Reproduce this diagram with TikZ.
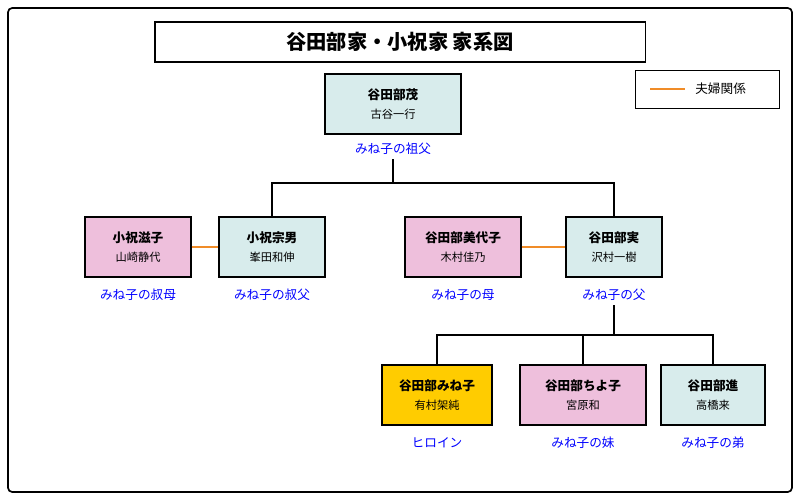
\documentclass[tikz,border=0pt]{standalone}
\usepackage{fontspec}
\setmainfont{Noto Sans CJK JP}
\usetikzlibrary{positioning}
\definecolor{mcyan}{HTML}{D8ECEC}
\definecolor{mpink}{HTML}{EEBFDC}
\definecolor{myellow}{HTML}{FFCC00}
\definecolor{morange}{HTML}{F08C28}
\begin{document}
\begin{tikzpicture}
  [x=0.025cm,y=-0.025cm,every node/.style={inner sep=0pt}]
  \tikzstyle{person} = [draw=black,thick,rectangle,minimum height=1.5cm,align=center,font=\small]
  \tikzstyle{role} = [text=blue,font=\small]
  \tikzstyle{couple} = [draw=morange,line width=1.5pt]
  \useasboundingbox (0,0) rectangle (800,500);
  \draw[line width=1.2pt,rounded corners=3pt] (8,8) rectangle (792,492);
  \node[draw,thick,minimum width=12.25cm,minimum height=1cm,font=\Large\bfseries] (title) at (400,42) {谷田部家・小祝家 家系図};
  \node[draw,thin,minimum width=3.6cm,minimum height=0.95cm] (legend) at (707,89) {};
  \coordinate (la) at (650,89);
  \coordinate (lb) at (685,89);
  \node[anchor=west,font=\small] (legendtext) at (695,89) {夫婦関係};
  \draw[couple] (la) -- (lb);
  % persons
  \node[person,fill=mcyan,minimum width=3.4cm] (shigeru) at (393,104) {\textbf{谷田部茂}\\[3pt]{\footnotesize 古谷一行}};
  \node[person,fill=mpink,minimum width=2.65cm] (shigeko) at (138,247) {\textbf{小祝滋子}\\[3pt]{\footnotesize 山崎静代}};
  \node[person,fill=mcyan,minimum width=2.65cm] (muneo) at (272,247) {\textbf{小祝宗男}\\[3pt]{\footnotesize 峯田和伸}};
  \node[person,fill=mpink,minimum width=2.9cm] (miyoko) at (463,247) {\textbf{谷田部美代子}\\[3pt]{\footnotesize 木村佳乃}};
  \node[person,fill=mcyan,minimum width=2.4cm] (minoru) at (614,247) {\textbf{谷田部実}\\[3pt]{\footnotesize 沢村一樹}};
  \node[person,fill=myellow,minimum width=2.75cm] (mineko) at (437,395) {\textbf{谷田部みね子}\\[3pt]{\footnotesize 有村架純}};
  \node[person,fill=mpink,minimum width=3.15cm] (chiyoko) at (583,395) {\textbf{谷田部ちよ子}\\[3pt]{\footnotesize 宮原和}};
  \node[person,fill=mcyan,minimum width=2.6cm] (susumu) at (713,395) {\textbf{谷田部進}\\[3pt]{\footnotesize 高橋来}};
  % roles
  \node[role,below=6pt of shigeru] (r1) {みね子の祖父};
  \node[role,below=8pt of shigeko] (r2) {みね子の叔母};
  \node[role,below=8pt of muneo] (r3) {みね子の叔父};
  \node[role,below=8pt of miyoko] (r4) {みね子の母};
  \node[role,below=8pt of minoru] (r5) {みね子の父};
  \node[role,below=8pt of mineko] (r6) {ヒロイン};
  \node[role,below=8pt of chiyoko] (r7) {みね子の妹};
  \node[role,below=8pt of susumu] (r8) {みね子の弟};
  % couples
  \foreach \source /\dest in {shigeko/muneo,miyoko/minoru}
   \draw[couple] (\source) -- (\dest);
  % descent
  \coordinate (j1) at (393,183);
  \coordinate (j2) at (614,335);
  \draw[thick] (r1.south) ++(0,-3pt) -- (j1);
  \draw[thick] (r5.south) ++(0,-3pt) -- (j2);
  \foreach \dest in {muneo,minoru}
   \draw[thick] (j1) -| (\dest.north);
  \foreach \dest in {mineko,chiyoko,susumu}
   \draw[thick] (j2) -| (\dest.north);
\end{tikzpicture}
\end{document}
